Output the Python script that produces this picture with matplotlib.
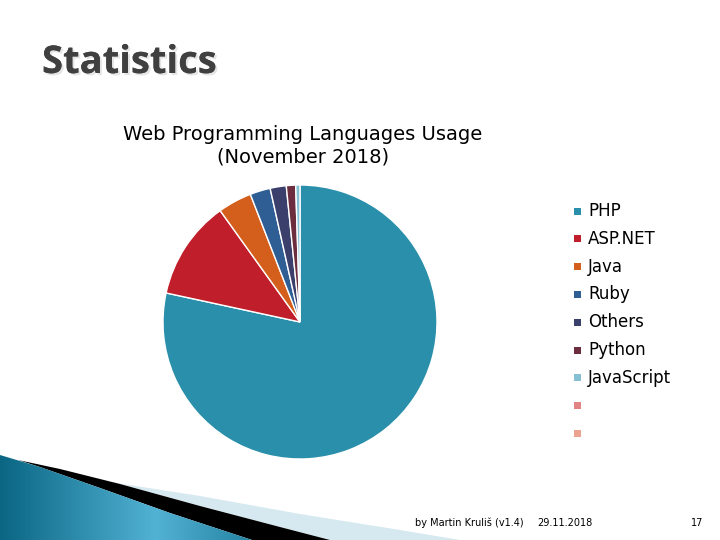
import matplotlib
matplotlib.use("Agg")
import matplotlib.pyplot as plt
import matplotlib.patheffects as pe
from matplotlib.patches import Polygon, Rectangle
from matplotlib.colors import LinearSegmentedColormap
import numpy as np

# ---- data ----
languages = ["PHP", "ASP.NET", "Java", "Ruby", "Others", "Python", "JavaScript"]
usage = [78.4, 11.7, 4.0, 2.4, 1.9, 1.1, 0.5]
colors = ["#2A8FAA", "#C01E2A", "#D45E1C", "#2F5E94", "#3B3F6C", "#6C2E3E", "#86C0D4"]
extra_legend_colors = ["#E38484", "#EBA28E"]
slide_title = "Statistics"
chart_title = "Web Programming Languages Usage\n(November 2018)"
footer_author = "by Martin Kruliš (v1.4)"
footer_date = "29.11.2018"
footer_page = "17"

W, H = 720, 540
fig = plt.figure(figsize=(7.2, 5.4), dpi=100)
fig.patch.set_facecolor("white")

# overlay in pixel coordinates
ov = fig.add_axes([0, 0, 1, 1])
ov.set_xlim(0, W)
ov.set_ylim(H, 0)
ov.axis("off")

# decorative swoosh bottom-left
blue_poly = [(0, 455), (40, 467), (100, 488), (170, 513), (252, 540), (0, 540)]
black_poly = [(18, 460), (60, 469), (120, 484), (200, 506), (280, 527), (330, 540),
              (252, 540), (170, 513), (100, 488), (40, 467)]
light_poly = [(110, 482), (200, 496), (300, 514), (400, 530), (460, 540),
              (330, 540), (280, 527), (200, 506), (120, 484)]
ov.add_patch(Polygon(light_poly, closed=True, facecolor="#D6E8F0", edgecolor="none"))
ov.add_patch(Polygon(black_poly, closed=True, facecolor="black", edgecolor="none"))
bp = Polygon(blue_poly, closed=True, facecolor="none", edgecolor="none")
ov.add_patch(bp)
gx = np.linspace(0, 1, 256)
grad = np.vstack([np.interp(gx, [0, 0.6, 1], [0, 0.9, 0.3])] * 2)
cm = LinearSegmentedColormap.from_list("sw", ["#0A6683", "#52B2D4"])
im = ov.imshow(grad, cmap=cm, extent=(0, 260, 540, 450), aspect="auto", zorder=1)
im.set_clip_path(bp)

# slide title
ov.text(42, 63, slide_title, fontsize=27.5, fontweight="bold", family="Open Sans",
        color="#404040", va="center", ha="left",
        path_effects=[pe.withSimplePatchShadow(offset=(1.5, -1.5), shadow_rgbFace="#CCCCCC", alpha=0.5),
                      pe.Normal()])

# chart title
ov.text(303, 146, chart_title, fontsize=14, family="DejaVu Sans", color="black",
        ha="center", va="center", linespacing=1.2)

# pie
cx, cy, r = 300, 322, 137
ax = fig.add_axes([(cx - r) / W, (H - cy - r) / H, 2 * r / W, 2 * r / H])
ax.pie(usage, colors=colors, startangle=90, counterclock=False,
       wedgeprops=dict(edgecolor="white", linewidth=1.0))
ax.set_xlim(-1, 1)
ax.set_ylim(-1, 1)
ax.set_aspect("equal")
ax.axis("off")

# legend
leg_labels = languages + ["", ""]
leg_colors = colors + extra_legend_colors
y0, dy = 211, 27.8
for i, (lab, col) in enumerate(zip(leg_labels, leg_colors)):
    y = y0 + i * dy
    ov.add_patch(Rectangle((574, y - 3.5), 7, 7, facecolor=col, edgecolor="none"))
    ov.text(588, y, lab, fontsize=12, family="DejaVu Sans", va="center", ha="left", color="black")

# footer
ov.text(415, 523, footer_author, fontsize=7, family="DejaVu Sans", va="center", ha="left")
ov.text(537, 523, footer_date, fontsize=7, family="DejaVu Sans", va="center", ha="left")
ov.text(703, 523, footer_page, fontsize=7, family="DejaVu Sans", va="center", ha="right")

fig.savefig("out.png", dpi=100, facecolor="white")
